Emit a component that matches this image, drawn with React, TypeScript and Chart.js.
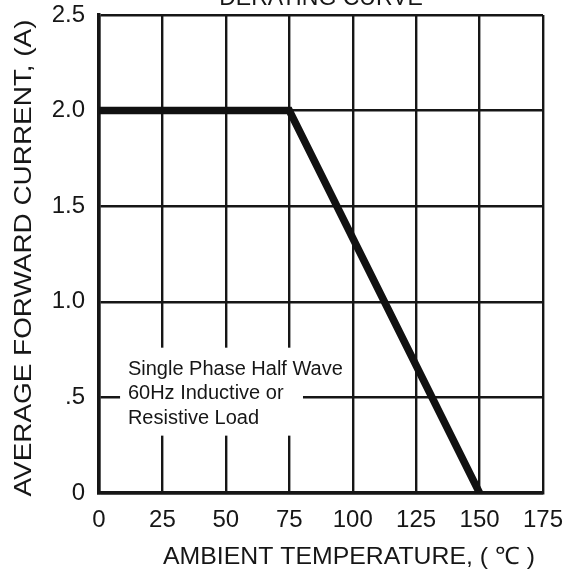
import { useEffect, useRef } from 'react';
import { Chart, registerables } from 'chart.js';

Chart.register(...registerables);

const temperatures = [0, 75, 150];
const currents = [2.0, 2.0, 0];
const xTickLabels = ['0', '25', '50', '75', '100', '125', '150', '175'];
const yTickLabels = ['0', '.5', '1.0', '1.5', '2.0', '2.5'];
const chartTitle = 'DERATING CURVE';
const xTitle = 'AMBIENT TEMPERATURE, ( ℃ )';
const yTitle = 'AVERAGE FORWARD CURRENT, (A)';
const noteLines = ['Single Phase Half Wave', '60Hz Inductive or', 'Resistive Load'];

const FONT = '"Liberation Sans", Arial, sans-serif';
const INK = '#161616';

const textPlugin = {
  id: 'deratingTexts',
  beforeDatasetsDraw(chart: any) {
    const { ctx, scales } = chart;
    const x = scales.x;
    const y = scales.y;
    ctx.save();
    const l = x.getPixelForValue(8.3);
    const r = x.getPixelForValue(80.4);
    const t = y.getPixelForValue(0.76);
    const b = y.getPixelForValue(0.3);
    ctx.fillStyle = '#ffffff';
    ctx.fillRect(l, t, r - l, b - t);
    ctx.fillStyle = INK;
    ctx.font = `20px ${FONT}`;
    ctx.textBaseline = 'middle';
    ctx.textAlign = 'left';
    const tx = x.getPixelForValue(11.4);
    const ty = y.getPixelForValue(0.648);
    noteLines.forEach((s, i) => ctx.fillText(s, tx, ty + i * 24.5));
    ctx.restore();
  },
  afterDraw(chart: any) {
    const { ctx } = chart;
    ctx.save();
    ctx.fillStyle = INK;
    // chart title (mostly cropped at top)
    ctx.font = `23px ${FONT}`;
    ctx.textAlign = 'center';
    ctx.textBaseline = 'alphabetic';
    ctx.fillText(chartTitle, 321, 4.5);

    // x title
    ctx.font = `24px ${FONT}`;
    ctx.textBaseline = 'middle';
    const xw = ctx.measureText(xTitle).width;
    ctx.save();
    ctx.translate(349, 557);
    ctx.scale(372 / xw, 1);
    ctx.fillText(xTitle, 0, 0);
    ctx.restore();

    // y title
    ctx.font = `24px ${FONT}`;
    const yw = ctx.measureText(yTitle).width;
    ctx.save();
    ctx.translate(24, 258);
    ctx.rotate(-Math.PI / 2);
    ctx.scale(477 / yw, 1);
    ctx.fillText(yTitle, 0, 0);
    ctx.restore();
    ctx.restore();
  },
};

export default function App() {
  const ref = useRef<HTMLCanvasElement | null>(null);

  useEffect(() => {
    document.body.style.margin = '0';
    const canvas = ref.current;
    if (!canvas) return;
    const chart = new Chart(canvas, {
      type: 'line',
      data: {
        datasets: [
          {
            data: temperatures.map((t, i) => ({ x: t, y: currents[i] })),
            borderColor: '#111111',
            borderWidth: 7.5,
            pointRadius: 0,
            tension: 0,
            fill: false,
            borderJoinStyle: 'miter',
            borderCapStyle: 'butt',
          },
        ],
      },
      options: {
        animation: false,
        responsive: false,
        layout: { padding: { top: 15, right: 26, left: 0, bottom: 0 } },
        plugins: {
          legend: { display: false },
          tooltip: { enabled: false },
          title: { display: false },
        },
        scales: {
          x: {
            type: 'linear',
            min: 0,
            max: 175,
            ticks: {
              stepSize: 25,
              color: INK,
              font: { family: FONT, size: 24 },
              padding: 12.5,
              maxRotation: 0,
              callback: (_v: any, i: number) => xTickLabels[i],
            },
            grid: { color: INK, lineWidth: 2.4, drawTicks: false },
            border: { color: INK, width: 3.5 },
            afterFit: (s: any) => {
              s.height = 83;
              s.paddingLeft = 0;
              s.paddingRight = 0;
            },
          },
          y: {
            type: 'linear',
            min: 0,
            max: 2.5,
            ticks: {
              stepSize: 0.5,
              color: INK,
              font: { family: FONT, size: 24 },
              padding: 14,
              callback: (_v: any, i: number) => yTickLabels[i],
            },
            grid: { color: INK, lineWidth: 2.4, drawTicks: false },
            border: { color: INK, width: 3.5 },
            afterFit: (s: any) => {
              s.width = 99;
              s.paddingTop = 0;
              s.paddingBottom = 0;
            },
          },
        },
      },
      plugins: [textPlugin],
    });
    return () => chart.destroy();
  }, []);

  return (
    <div style={{ width: 569, height: 576 }}>
      <canvas ref={ref} width={569} height={576} style={{ display: 'block' }} />
    </div>
  );
}
